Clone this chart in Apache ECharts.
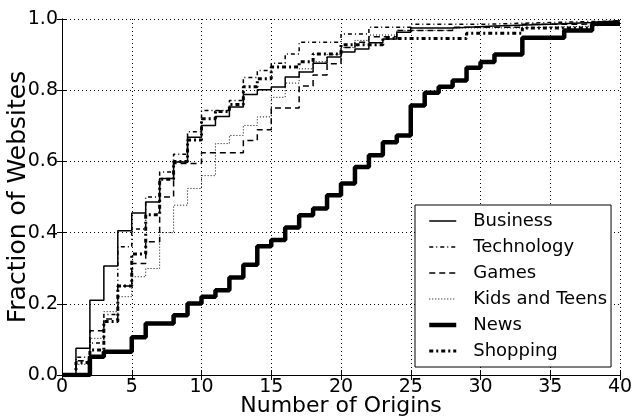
<!DOCTYPE html>
<html>
<head>
<meta charset="utf-8">
<script src="https://cdn.jsdelivr.net/npm/echarts@6/dist/echarts.min.js"></script>
<style>
html, body { margin: 0; padding: 0; background: #fff; }
#chart { width: 632px; height: 417px; }
</style>
</head>
<body>
<div id="chart"></div>
<script>
// CDF steps: [number of origins, fraction of websites]
const business = [[0,0],[1,0.075],[2,0.21],[3,0.306],[4,0.405],[5,0.455],[6,0.486],[7,0.552],[8,0.598],[9,0.668],[10,0.701],[11,0.726],[12,0.753],[13,0.788],[14,0.801],[15,0.809],[16,0.837],[17,0.851],[18,0.876],[19,0.893],[20,0.907],[21,0.916],[22,0.933],[23,0.944],[24,0.963],[25,0.975],[28,0.98],[31,0.985],[35,0.99],[38,0.995],[40,0.995]]
const technology = [[0,0],[1,0.05],[2,0.09],[3,0.17],[4,0.36],[5,0.41],[6,0.5],[7,0.57],[8,0.62],[9,0.683],[10,0.743],[12,0.771],[13,0.836],[14,0.855],[15,0.876],[16,0.902],[17,0.935],[20,0.958],[22,0.977],[25,0.985],[30,0.99],[35,0.995],[40,0.995]]
const games = [[0,0],[1,0.04],[2,0.124],[3,0.157],[4,0.25],[5,0.313],[6,0.374],[7,0.5],[8,0.594],[10,0.624],[13,0.659],[14,0.689],[15,0.75],[17,0.812],[18,0.843],[19,0.874],[20,0.92],[21,0.935],[22,0.95],[24,0.968],[28,0.977],[33,0.985],[37,0.99],[40,0.99]]
const kids = [[0,0],[1,0.03],[2,0.103],[3,0.178],[4,0.22],[5,0.276],[6,0.299],[7,0.4],[8,0.477],[9,0.524],[10,0.56],[11,0.65],[12,0.673],[13,0.701],[14,0.725],[15,0.78],[16,0.82],[17,0.86],[18,0.88],[19,0.9],[20,0.92],[21,0.94],[22,0.955],[24,0.968],[28,0.975],[33,0.98],[38,0.985],[40,0.985]]
const news = [[0,0],[2,0.051],[3,0.065],[5,0.106],[6,0.145],[8,0.168],[9,0.201],[10,0.22],[11,0.238],[12,0.274],[13,0.31],[14,0.362],[15,0.379],[16,0.414],[17,0.449],[18,0.468],[19,0.505],[20,0.538],[21,0.584],[22,0.617],[23,0.654],[24,0.673],[25,0.757],[26,0.793],[27,0.81],[28,0.827],[29,0.863],[30,0.879],[31,0.9],[33,0.947],[36,0.968],[38,0.987],[40,0.987]]
const shopping = [[0,0],[1,0.035],[2,0.07],[3,0.15],[4,0.25],[5,0.34],[6,0.45],[7,0.55],[8,0.6],[9,0.66],[10,0.72],[11,0.74],[12,0.76],[13,0.81],[14,0.832],[15,0.865],[17,0.88],[18,0.902],[20,0.928],[23,0.945],[29,0.96],[33,0.975],[38,0.99],[40,0.99]]

const names = ['Business', 'Technology', 'Games', 'Kids and Teens', 'News', 'Shopping']
const font = 'DejaVu Sans'

function stepLine(name, data, width, type) {
  return {
    name: name,
    type: 'line',
    step: 'end',
    data: data,
    symbol: 'none',
    lineStyle: { color: '#000', width: width, type: type, cap: 'butt' },
    itemStyle: { color: '#000' }
  }
}

let myChart = echarts.init(document.getElementById('chart'))
let option = {
  animation: false,
  grid: { left: 62, right: 12, top: 19, bottom: 42, outerBoundsMode: 'none', containLabel: false },
  legend: {
    data: names,
    orient: 'vertical',
    left: 415,
    top: 205,
    itemWidth: 27,
    itemHeight: 14,
    itemGap: 8,
    padding: [7, 4, 7, 12],
    borderColor: '#000',
    borderWidth: 1,
    backgroundColor: '#fff',
    itemStyle: { opacity: 0 },
    lineStyle: { width: 'inherit' },
    textStyle: { fontFamily: font, fontSize: 18, color: '#000', lineHeight: 18, padding: [0, 0, 0, 12] }
  },
  xAxis: [
    {
      type: 'value', min: 0, max: 40, interval: 5,
      name: 'Number of Origins', nameLocation: 'middle', nameGap: 20, nameMoveOverlap: false,
      nameTextStyle: { fontFamily: font, fontSize: 22, color: '#000' },
      axisLine: { lineStyle: { color: '#000', width: 1 } },
      axisTick: { inside: true, length: 5, lineStyle: { color: '#000' } },
      axisLabel: { fontFamily: font, fontSize: 19, color: '#000', margin: 3 },
      splitLine: { show: true, lineStyle: { color: '#000', type: [1, 3], width: 1 } }
    },
    {
      type: 'value', min: 0, max: 40, interval: 5, position: 'top',
      axisLine: { lineStyle: { color: '#000', width: 1 } },
      axisTick: { inside: true, length: 5, lineStyle: { color: '#000' } },
      axisLabel: { show: false },
      splitLine: { show: false }
    }
  ],
  yAxis: [
    {
      type: 'value', min: 0, max: 1, interval: 0.2,
      name: 'Fraction of Websites', nameLocation: 'middle', nameGap: 31, nameMoveOverlap: false,
      nameTextStyle: { fontFamily: font, fontSize: 25, color: '#000' },
      axisLine: { show: true, lineStyle: { color: '#000', width: 1 } },
      axisTick: { show: true, inside: true, length: 5, lineStyle: { color: '#000' } },
      axisLabel: { fontFamily: font, fontSize: 19, color: '#000', margin: 4, formatter: v => v.toFixed(1) },
      splitLine: { show: true, lineStyle: { color: '#000', type: [1, 3], width: 1 } }
    },
    {
      type: 'value', min: 0, max: 1, interval: 0.2, position: 'right',
      axisLine: { show: true, lineStyle: { color: '#000', width: 1 } },
      axisTick: { show: true, inside: true, length: 5, lineStyle: { color: '#000' } },
      axisLabel: { show: false },
      splitLine: { show: false }
    }
  ],
  series: [
    stepLine('Business', business, 1.5, 'solid'),
    stepLine('Technology', technology, 1.5, [4, 3, 1, 3]),
    stepLine('Games', games, 1.5, [6, 4]),
    stepLine('Kids and Teens', kids, 1, [1, 2]),
    stepLine('News', news, 4.5, 'solid'),
    stepLine('Shopping', shopping, 3, [4, 3, 2, 3])
  ]
}
myChart.setOption(option)
</script>
</body>
</html>
